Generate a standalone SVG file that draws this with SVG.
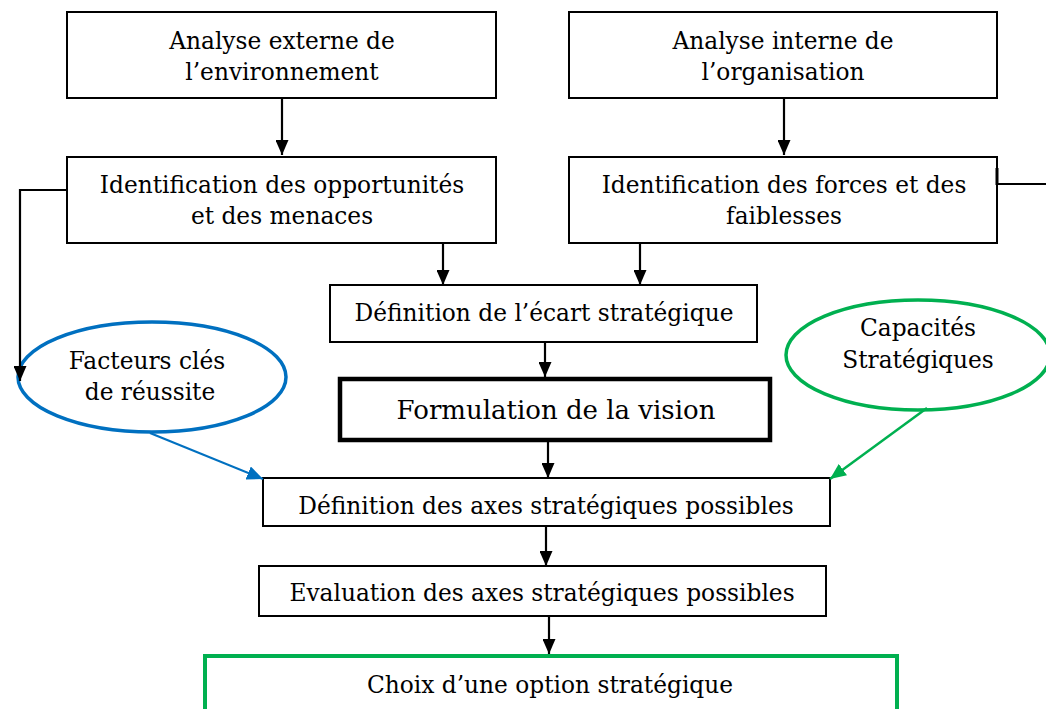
<svg xmlns="http://www.w3.org/2000/svg" width="1046" height="709" viewBox="0 0 1046 709">
<style>
.box{fill:#fff;stroke:#000;stroke-width:2}
.t{font-family:"DejaVu Serif","Liberation Serif",serif;font-size:23.3px;fill:#000;text-anchor:middle}
.c{fill:none;stroke:#000;stroke-width:2.2}
</style>
<defs>
<marker id="ab" viewBox="0 0 15 13" refX="15" refY="6.5" markerWidth="15" markerHeight="13" markerUnits="userSpaceOnUse" orient="auto"><path d="M0,0 L15,6.5 L0,13 z" fill="#000"/></marker>
<marker id="abl" viewBox="0 0 16 14" refX="16" refY="7" markerWidth="16" markerHeight="14" markerUnits="userSpaceOnUse" orient="auto"><path d="M0,0 L16,7 L0,14 z" fill="#0070c0"/></marker>
<marker id="agr" viewBox="0 0 16 14" refX="16" refY="7" markerWidth="16" markerHeight="14" markerUnits="userSpaceOnUse" orient="auto"><path d="M0,0 L16,7 L0,14 z" fill="#00b050"/></marker>
</defs>
<rect width="1046" height="709" fill="#fff"/>
<g id="n1"><rect class="box" x="67" y="12" width="429" height="86"/><text class="t" x="282" y="49">Analyse externe de</text><text class="t" x="282" y="80">l’environnement</text></g>
<g id="n2"><rect class="box" x="569" y="12" width="428" height="86"/><text class="t" x="783" y="49">Analyse interne de</text><text class="t" x="783" y="80">l’organisation</text></g>
<g id="n3"><rect class="box" x="67" y="157" width="429" height="86"/><text class="t" x="282" y="193">Identification des opportunités</text><text class="t" x="282" y="224">et des menaces</text></g>
<g id="n4"><rect class="box" x="569" y="157" width="428" height="86"/><text class="t" x="784" y="193">Identification des forces et des</text><text class="t" x="784" y="224">faiblesses</text></g>
<g id="n5"><rect class="box" x="330" y="285" width="427" height="57"/><text class="t" x="544" y="321">Définition de l’écart stratégique</text></g>
<g id="n6"><rect x="340" y="379" width="430" height="61" fill="#fff" stroke="#000" stroke-width="4.5"/><text class="t" x="556" y="419" style="font-size:26px">Formulation de la vision</text></g>
<g id="n7"><ellipse cx="152" cy="377" rx="134" ry="55" fill="#fff" stroke="#0070c0" stroke-width="3.5"/><text class="t" x="147" y="369">Facteurs clés</text><text class="t" x="150" y="400">de réussite</text></g>
<g id="n8"><ellipse cx="918" cy="355" rx="132" ry="55" fill="#fff" stroke="#00b050" stroke-width="3.5"/><text class="t" x="918" y="336">Capacités</text><text class="t" x="918" y="368">Stratégiques</text></g>
<g id="n9"><rect class="box" x="263" y="478" width="567" height="48"/><text class="t" x="546" y="514">Définition des axes stratégiques possibles</text></g>
<g id="n10"><rect class="box" x="259" y="566" width="567" height="50"/><text class="t" x="542" y="601">Evaluation des axes stratégiques possibles</text></g>
<g id="n11"><rect x="205" y="656" width="692" height="70" fill="#fff" stroke="#00b050" stroke-width="4"/><text class="t" x="550" y="693">Choix d’une option stratégique</text></g>
<g id="connectors">
<path class="c" d="M282,98 V155" marker-end="url(#ab)"/>
<path class="c" d="M784,98 V155" marker-end="url(#ab)"/>
<path class="c" d="M67,190 H20 V381" marker-end="url(#ab)"/>
<path class="c" d="M997,184 H1053 V345" marker-end="url(#ab)"/>
<path class="c" d="M997,168 V185" style="stroke-width:3"/>
<path class="c" d="M443,243 V285" marker-end="url(#ab)"/>
<path class="c" d="M640,243 V285" marker-end="url(#ab)"/>
<path class="c" d="M545,342 V377" marker-end="url(#ab)"/>
<path class="c" d="M548,440 V478" marker-end="url(#ab)"/>
<path class="c" d="M546,526 V566" marker-end="url(#ab)"/>
<path class="c" d="M549,616 V654" marker-end="url(#ab)"/>
<path d="M150,433 L263,479" fill="none" stroke="#0070c0" stroke-width="2.2" marker-end="url(#abl)"/>
<path d="M927,408 L830,479" fill="none" stroke="#00b050" stroke-width="2.5" marker-end="url(#agr)"/>
</g>
</svg>
